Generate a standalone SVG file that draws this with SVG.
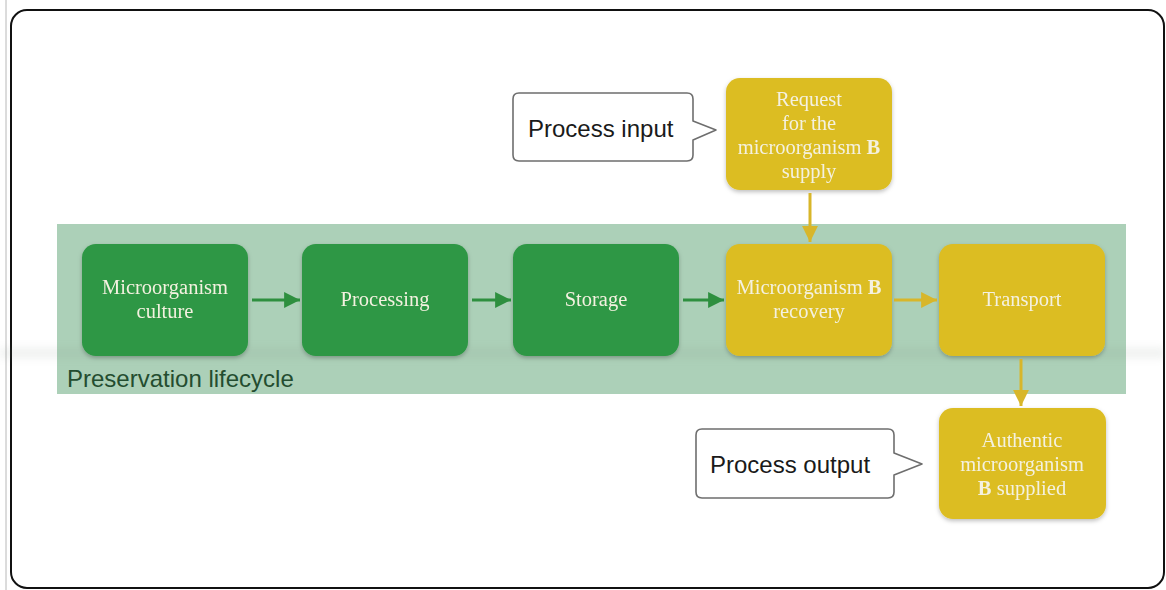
<svg xmlns="http://www.w3.org/2000/svg" width="1166" height="590" viewBox="0 0 1166 590">
  <style>
    .node-green { fill: #2d9744; }
    .node-yellow { fill: #dcbd22; }
    .label { font-family: "Liberation Serif", "Times New Roman", serif; font-size: 20.5px; fill: #f4f1e0; text-anchor: middle; }
    .callout { fill: #ffffff; stroke: #6e6e6e; stroke-width: 1.6; stroke-linejoin: round; }
    .callout-text { font-family: "Liberation Sans", Arial, sans-serif; font-size: 24px; fill: #1a1a1a; }
    .lane-text { font-family: "Liberation Sans", Arial, sans-serif; font-size: 24px; fill: #244d30; }
    .flow-green { stroke: #2e8f3f; stroke-width: 3; fill: none; }
    .flow-yellow { stroke: #d8b62a; stroke-width: 3; fill: none; }
  </style>
  <defs>
    <marker id="arrow-green" viewBox="0 0 10 10" refX="10" refY="5" markerWidth="6" markerHeight="5.3" markerUnits="strokeWidth" orient="auto">
      <path d="M0,0 L10,5 L0,10 z" fill="#2e8f3f"/>
    </marker>
    <marker id="arrow-yellow" viewBox="0 0 10 10" refX="10" refY="5" markerWidth="6" markerHeight="5.3" markerUnits="strokeWidth" orient="auto">
      <path d="M0,0 L10,5 L0,10 z" fill="#d8b62a"/>
    </marker>
    <filter id="shadow" x="-10%" y="-10%" width="120%" height="130%">
      <feDropShadow dx="0" dy="2" stdDeviation="2" flood-color="#000" flood-opacity="0.25"/>
    </filter>
    <filter id="haze" x="-10%" y="-200%" width="120%" height="500%">
      <feGaussianBlur stdDeviation="5"/>
    </filter>
  </defs>

  <!-- page frame -->
  <rect x="0" y="0" width="1166" height="590" fill="#ffffff"/>
  <line x1="6" y1="0" x2="6" y2="590" stroke="#b8b8b8" stroke-width="1"/>
  <rect x="11" y="10" width="1153" height="578" rx="16" fill="none" stroke="#111" stroke-width="2"/>

  <!-- lifecycle lane -->
  <g id="lane">
    <rect x="57" y="224" width="1069" height="170" fill="#acd0b8"/>
    <rect x="0" y="349" width="1166" height="8" fill="#7a8a80" opacity="0.15" filter="url(#haze)"/>
    <text class="lane-text" x="67" y="387">Preservation lifecycle</text>
  </g>

  <!-- lifecycle steps -->
  <g id="culture" filter="url(#shadow)">
    <rect class="node-green" x="82" y="244" width="166" height="112" rx="14"/>
    <text class="label" x="165" y="294">Microorganism</text>
    <text class="label" x="165" y="318">culture</text>
  </g>
  <g id="processing" filter="url(#shadow)">
    <rect class="node-green" x="302" y="244" width="166" height="112" rx="14"/>
    <text class="label" x="385" y="306">Processing</text>
  </g>
  <g id="storage" filter="url(#shadow)">
    <rect class="node-green" x="513" y="244" width="166" height="112" rx="14"/>
    <text class="label" x="596" y="306">Storage</text>
  </g>
  <g id="recovery" filter="url(#shadow)">
    <rect class="node-yellow" x="726" y="244" width="166" height="112" rx="14"/>
    <text class="label" x="809" y="294">Microorganism <tspan font-weight="bold">B</tspan></text>
    <text class="label" x="809" y="318">recovery</text>
  </g>
  <g id="transport" filter="url(#shadow)">
    <rect class="node-yellow" x="939" y="244" width="166" height="112" rx="14"/>
    <text class="label" x="1022" y="306">Transport</text>
  </g>

  <!-- input and output -->
  <g id="request" filter="url(#shadow)">
    <rect class="node-yellow" x="726" y="78" width="166" height="112" rx="14"/>
    <text class="label" x="809" y="106">Request</text>
    <text class="label" x="809" y="130">for the</text>
    <text class="label" x="809" y="154">microorganism <tspan font-weight="bold">B</tspan></text>
    <text class="label" x="809" y="178">supply</text>
  </g>
  <g id="supplied" filter="url(#shadow)">
    <rect class="node-yellow" x="939" y="408" width="167" height="111" rx="14"/>
    <text class="label" x="1022" y="447">Authentic</text>
    <text class="label" x="1022" y="471">microorganism</text>
    <text class="label" x="1022" y="495"><tspan font-weight="bold">B</tspan> supplied</text>
  </g>

  <!-- callouts -->
  <g id="process-input">
    <path class="callout" d="M519,93 H687 Q693,93 693,99 V121 L716,130 L693,140 V155 Q693,161 687,161 H519 Q513,161 513,155 V99 Q513,93 519,93 Z"/>
    <text class="callout-text" x="528" y="137">Process input</text>
  </g>
  <g id="process-output">
    <path class="callout" d="M702,429 H888 Q894,429 894,435 V453 L922,464 L894,475 V492 Q894,498 888,498 H702 Q696,498 696,492 V435 Q696,429 702,429 Z"/>
    <text class="callout-text" x="710" y="473">Process output</text>
  </g>

  <!-- connectors -->
  <g id="connectors">
    <line class="flow-green" x1="252" y1="300" x2="300" y2="300" marker-end="url(#arrow-green)"/>
    <line class="flow-green" x1="472" y1="300" x2="511" y2="300" marker-end="url(#arrow-green)"/>
    <line class="flow-green" x1="683" y1="300" x2="724" y2="300" marker-end="url(#arrow-green)"/>
    <line class="flow-yellow" x1="894" y1="300" x2="937" y2="300" marker-end="url(#arrow-yellow)"/>
    <line class="flow-yellow" x1="810" y1="193" x2="810" y2="242" marker-end="url(#arrow-yellow)"/>
    <line class="flow-yellow" x1="1021" y1="359" x2="1021" y2="406" marker-end="url(#arrow-yellow)"/>
  </g>
</svg>
